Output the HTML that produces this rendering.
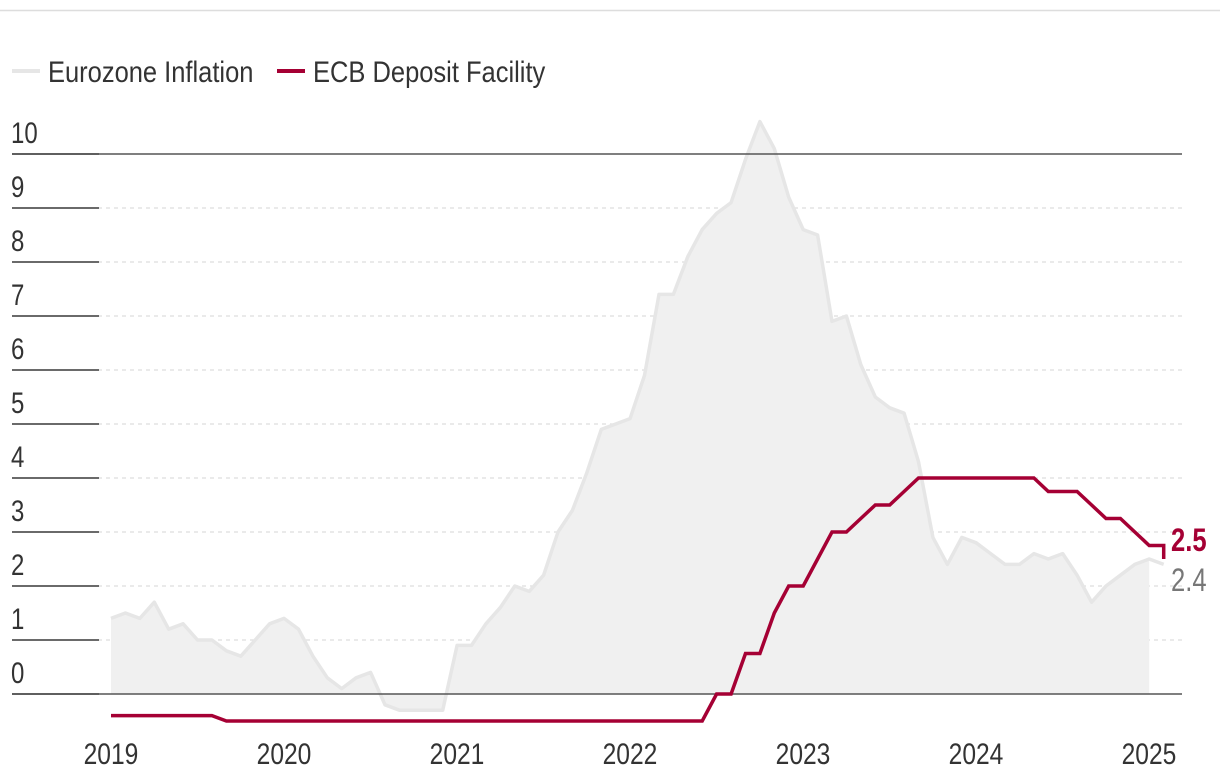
<!DOCTYPE html>
<html><head><meta charset="utf-8"><style>
html,body{margin:0;padding:0;background:#fff;width:1220px;height:784px;overflow:hidden}
text{font-family:"Liberation Sans Narrow","Liberation Sans",sans-serif}
</style></head><body>
<svg id="s" width="1220" height="784" xmlns="http://www.w3.org/2000/svg">
<line x1="0" y1="10.5" x2="1220" y2="10.5" stroke="#ddd" stroke-width="1.5"/>
<line x1="12" y1="71" x2="40" y2="71" stroke="#e6e6e6" stroke-width="4"/>
<text x="48" y="82" font-size="30" fill="#333" transform="translate(48 0) scale(0.85 1) translate(-48 0)">Eurozone Inflation</text>
<line x1="277" y1="71" x2="305" y2="71" stroke="#a50034" stroke-width="4"/>
<text x="313" y="82" font-size="30" fill="#333" transform="translate(313 0) scale(0.85 1) translate(-313 0)">ECB Deposit Facility</text>
<g id="grid"></g>
<path id="area" fill="#f0f0f0" stroke="none"/>
<path id="inf" fill="none" stroke="#e6e6e6" stroke-width="3.5" stroke-linejoin="round"/>
<line x1="12" y1="694" x2="1182" y2="694" stroke="#555" stroke-width="1.5"/>
<line x1="12" y1="154" x2="1182" y2="154" stroke="#555" stroke-width="1.5"/>
<path id="dep" fill="none" stroke="#a50034" stroke-width="3.5" stroke-linejoin="miter"/>
<text x="1171" y="551" font-size="32" fill="#a50034" font-weight="bold" transform="translate(1171 0) scale(0.8 1) translate(-1171 0)">2.5</text>
<text x="1171" y="591" font-size="32" fill="#777" transform="translate(1171 0) scale(0.8 1) translate(-1171 0)">2.4</text>
<g id="xl"></g>
</svg>
<script>
var ns="http://www.w3.org/2000/svg",g=document.getElementById('grid'),xl=document.getElementById('xl');
function Y(v){return 694-54*v}
function X(i){return 111+i*14.42}
function el(p,t,a,txt){var e=document.createElementNS(ns,t);for(var k in a)e.setAttribute(k,a[k]);if(txt!=null)e.textContent=txt;p.appendChild(e);return e}
for(var v=0;v<=10;v++){var y=Y(v);
 if(v>0&&v<10)el(g,'line',{x1:98,y1:y,x2:1182,y2:y,stroke:'#ddd','stroke-width':1.2,'stroke-dasharray':'4 4'});
 el(g,'line',{x1:12,y1:y,x2:99,y2:y,stroke:'#555','stroke-width':1.8});
 el(g,'text',{x:11,y:y-11,'font-size':30,fill:'#333',transform:'translate(11 0) scale(0.8 1) translate(-11 0)'},String(v));}
var yrs=[2019,2020,2021,2022,2023,2024,2025];
yrs.forEach(function(yr,k){var x=111+k*173;el(xl,'text',{x:x,y:764,'font-size':30,fill:'#333','text-anchor':'middle',transform:'translate('+x+' 0) scale(0.82 1) translate('+(-x)+' 0)'},String(yr));});
var inf=[1.4,1.5,1.4,1.7,1.2,1.3,1.0,1.0,0.8,0.7,1.0,1.3,
1.4,1.2,0.7,0.3,0.1,0.3,0.4,-0.2,-0.3,-0.3,-0.3,-0.3,
0.9,0.9,1.3,1.6,2.0,1.9,2.2,3.0,3.4,4.1,4.9,5.0,
5.1,5.9,7.4,7.4,8.1,8.6,8.9,9.1,9.9,10.6,10.1,9.2,
8.6,8.5,6.9,7.0,6.1,5.5,5.3,5.2,4.3,2.9,2.4,2.9,
2.8,2.6,2.4,2.4,2.6,2.5,2.6,2.2,1.7,2.0,2.2,2.4,2.5,2.4];
var d='';inf.forEach(function(v,i){d+=(i?'L':'M')+X(i).toFixed(1)+' '+Y(v).toFixed(1)});
document.getElementById('inf').setAttribute('d',d);
var a='M'+X(0)+' 694';for(var i=0;i<=72;i++)a+='L'+X(i).toFixed(1)+' '+Y(inf[i]).toFixed(1);a+='L'+X(72)+' 694Z';
document.getElementById('area').setAttribute('d',a);
var dep=[];for(i=0;i<74;i++){var v;
 if(i<=7)v=-0.4;else if(i<=41)v=-0.5;else if(i<=43)v=0;else if(i<=45)v=0.75;else if(i==46)v=1.5;else if(i<=48)v=2;else if(i==49)v=2.5;else if(i<=51)v=3;else if(i==52)v=3.25;else if(i<=54)v=3.5;else if(i==55)v=3.75;else if(i<=64)v=4;else if(i<=67)v=3.75;else if(i==68)v=3.5;else if(i<=70)v=3.25;else if(i==71)v=3;else v=2.75;
 dep.push(v);}
d='';dep.forEach(function(v,i){d+=(i?'L':'M')+X(i).toFixed(1)+' '+Y(v).toFixed(1)});
d+='L'+X(73).toFixed(1)+' '+Y(2.5);
document.getElementById('dep').setAttribute('d',d);
</script>
</body></html>
